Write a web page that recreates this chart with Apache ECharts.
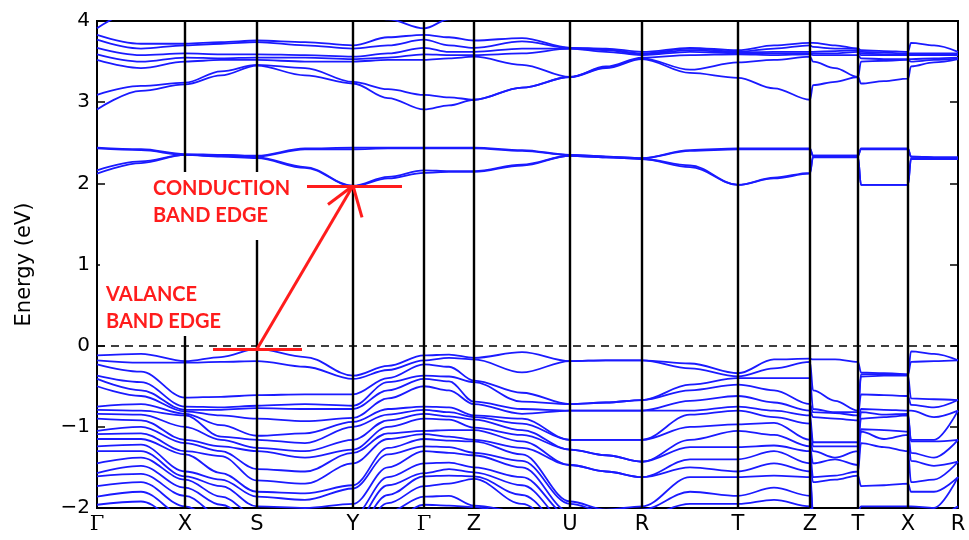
<!DOCTYPE html>
<html><head><meta charset="utf-8">
<script src="https://cdn.jsdelivr.net/npm/echarts@6/dist/echarts.min.js"></script>
<style>html,body{margin:0;padding:0;background:#fff}#c{width:969px;height:540px}</style>
</head><body><div id="c"></div>
<script>
// k-path distance of each sampled point (Γ-X-S-Y-Γ-Z-U-R-T-Z|T|X|R)
const kDist = [0,44,88,124,160,208,256,291,327,352,377,425,473,509,545,593,641,677,713,716,738,761,764,787,811,814,837,861];
const kTickPos = [0,88,160,256,327,377,473,545,641,713,761,811,861];
const kTickLabels = ['Γ','X','S','Y','Γ','Z','U','R','T','Z','T','X','R'];
const yTicks = [-2,-1,0,1,2,3,4];

// conduction bands, lower group (eV)
const d1 = [2.12,2.25,2.35,2.33,2.31,2.19,1.965,2.06,2.13,2.14,2.14,2.22,2.34,2.32,2.30,2.20,1.98,2.06,2.12,2.32,2.32,2.32,1.98,1.98,1.98,2.30,2.30,2.30];
const d2 = [2.16,2.27,2.35,2.34,2.32,2.20,1.97,2.08,2.16,2.15,2.15,2.23,2.34,2.32,2.30,2.22,1.98,2.07,2.13,2.33,2.33,2.33,1.98,1.98,1.98,2.31,2.31,2.31];
const d3 = [2.43,2.41,2.35,2.35,2.33,2.42,2.42,2.43,2.43,2.43,2.43,2.40,2.35,2.33,2.31,2.40,2.42,2.42,2.42,2.34,2.34,2.34,2.42,2.42,2.42,2.33,2.32,2.32];
const d4 = [2.44,2.42,2.36,2.35,2.34,2.43,2.44,2.44,2.44,2.44,2.44,2.41,2.35,2.33,2.31,2.41,2.43,2.43,2.43,2.34,2.34,2.34,2.43,2.43,2.43,2.33,2.32,2.32];
// conduction bands, upper group (eV)
const c1 = [2.91,3.14,3.22,3.33,3.45,3.33,3.23,3.05,2.91,2.96,3.03,3.18,3.31,3.42,3.53,3.36,3.30,3.17,3.03,3.21,3.25,3.31,3.23,3.26,3.29,3.44,3.49,3.53];
const c2 = [3.09,3.20,3.24,3.38,3.46,3.42,3.25,3.16,3.09,3.06,3.03,3.18,3.31,3.43,3.54,3.40,3.49,3.52,3.56,3.50,3.42,3.31,3.50,3.51,3.52,3.50,3.52,3.54];
const c3 = [3.52,3.42,3.50,3.52,3.52,3.50,3.50,3.52,3.52,3.54,3.56,3.46,3.31,3.44,3.55,3.58,3.59,3.58,3.59,3.58,3.58,3.58,3.54,3.53,3.53,3.53,3.54,3.55];
const c4 = [3.59,3.50,3.55,3.54,3.55,3.55,3.53,3.55,3.59,3.58,3.58,3.60,3.66,3.62,3.58,3.62,3.60,3.60,3.60,3.60,3.60,3.62,3.58,3.58,3.58,3.58,3.58,3.58];
const c5 = [3.67,3.58,3.60,3.59,3.59,3.58,3.56,3.60,3.67,3.62,3.62,3.66,3.66,3.64,3.59,3.64,3.61,3.62,3.62,3.62,3.63,3.64,3.60,3.59,3.59,3.59,3.59,3.59];
const c6 = [3.77,3.66,3.70,3.72,3.74,3.70,3.66,3.70,3.77,3.70,3.67,3.75,3.67,3.65,3.60,3.66,3.62,3.66,3.70,3.68,3.66,3.66,3.62,3.61,3.60,3.60,3.60,3.60];
const c7 = [3.83,3.72,3.72,3.74,3.76,3.74,3.70,3.80,3.83,3.80,3.76,3.79,3.67,3.66,3.62,3.67,3.64,3.70,3.73,3.73,3.70,3.66,3.64,3.63,3.62,3.73,3.70,3.62];
const c8 = [3.91,4.15,4.25,4.25,4.25,4.20,4.10,4.02,3.91,4.02,4.15,4.20,4.20,4.20,4.20,4.20,4.20,4.20,4.20,4.20,4.20,4.20,4.20,4.20,4.20,4.20,4.20,4.20];

// valence bands (eV)
const v1 = [-0.12,-0.10,-0.19,-0.14,-0.04,-0.14,-0.37,-0.25,-0.12,-0.11,-0.15,-0.08,-0.19,-0.18,-0.18,-0.22,-0.34,-0.17,-0.16,-0.17,-0.17,-0.20,-0.33,-0.34,-0.35,-0.07,-0.10,-0.18];
const v2 = [-0.18,-0.21,-0.21,-0.20,-0.19,-0.26,-0.41,-0.30,-0.18,-0.15,-0.17,-0.33,-0.19,-0.18,-0.18,-0.28,-0.38,-0.28,-0.20,-0.55,-0.68,-0.80,-0.35,-0.35,-0.36,-0.20,-0.19,-0.18];
const v3 = [-0.23,-0.32,-0.64,-0.63,-0.61,-0.60,-0.60,-0.40,-0.23,-0.26,-0.43,-0.58,-0.72,-0.70,-0.67,-0.48,-0.40,-0.40,-0.40,-0.78,-0.82,-0.82,-0.38,-0.37,-0.37,-0.65,-0.66,-0.67];
const v4 = [-0.37,-0.45,-0.75,-0.76,-0.74,-0.72,-0.74,-0.45,-0.37,-0.38,-0.45,-0.69,-0.72,-0.70,-0.67,-0.55,-0.48,-0.55,-0.72,-0.82,-0.83,-0.86,-0.60,-0.61,-0.62,-0.73,-0.76,-0.67];
const v5 = [-0.41,-0.55,-0.79,-0.79,-0.77,-0.78,-0.78,-0.55,-0.41,-0.44,-0.69,-0.78,-0.80,-0.80,-0.80,-0.68,-0.62,-0.70,-0.80,-0.88,-0.90,-0.92,-0.78,-0.79,-0.80,-0.80,-0.88,-0.80];
const v6 = [-0.50,-0.62,-0.81,-0.86,-0.90,-0.93,-0.89,-0.65,-0.50,-0.55,-0.72,-0.84,-0.80,-0.80,-0.80,-0.80,-0.75,-0.80,-0.86,-1.19,-1.19,-1.19,-0.82,-0.85,-0.84,-1.16,-1.16,-0.80];
const v7 = [-0.75,-0.72,-0.84,-0.98,-1.11,-1.08,-0.94,-0.78,-0.75,-0.76,-0.86,-0.90,-1.16,-1.16,-1.16,-0.85,-0.80,-0.88,-0.96,-1.24,-1.24,-1.24,-0.90,-0.88,-0.86,-1.18,-1.18,-1.16];
const v8 = [-0.79,-0.80,-0.86,-1.12,-1.16,-1.20,-1.00,-0.85,-0.79,-0.82,-0.88,-0.96,-1.16,-1.16,-1.16,-1.00,-0.97,-0.95,-1.16,-1.30,-1.38,-1.30,-1.03,-1.04,-1.06,-1.32,-1.38,-1.16];
const v9 = [-0.84,-0.85,-1.00,-1.16,-1.26,-1.30,-1.16,-0.92,-0.84,-0.87,-0.91,-1.04,-1.28,-1.35,-1.43,-1.16,-1.05,-1.10,-1.24,-1.45,-1.40,-1.47,-1.06,-1.15,-1.10,-1.42,-1.48,-1.43];
const v10 = [-0.90,-0.92,-1.16,-1.24,-1.30,-1.38,-1.28,-1.00,-0.90,-0.91,-1.01,-1.10,-1.28,-1.35,-1.43,-1.25,-1.25,-1.23,-1.30,-1.62,-1.60,-1.55,-1.20,-1.25,-1.30,-1.68,-1.65,-1.43];
const v11 = [-1.05,-1.00,-1.20,-1.30,-1.52,-1.55,-1.32,-1.08,-1.05,-1.04,-1.04,-1.18,-1.47,-1.55,-1.62,-1.40,-1.40,-1.30,-1.45,-1.68,-1.65,-1.60,-1.73,-1.72,-1.70,-1.80,-1.80,-1.62];
const v12 = [-1.09,-1.08,-1.30,-1.36,-1.66,-1.70,-1.45,-1.15,-1.09,-1.12,-1.16,-1.26,-1.47,-1.55,-1.62,-1.50,-1.55,-1.45,-1.55,-2.05,-2.05,-2.05,-1.98,-1.98,-1.98,-1.98,-2.00,-1.62];
const v13 = [-1.15,-1.15,-1.34,-1.57,-1.80,-1.82,-1.72,-1.26,-1.15,-1.17,-1.18,-1.34,-1.92,-2.02,-1.98,-1.62,-1.62,-1.60,-1.62,-2.10,-2.10,-2.10,-2.10,-2.10,-2.10,-2.10,-2.10,-1.98];
const v14 = [-1.24,-1.22,-1.55,-1.65,-1.86,-1.90,-1.76,-1.34,-1.24,-1.25,-1.32,-1.42,-1.95,-2.05,-2.02,-1.80,-1.85,-1.75,-1.85,-2.15,-2.15,-2.15,-2.15,-2.15,-2.15,-2.15,-2.15,-2.02];
const v15 = [-1.30,-1.30,-1.61,-1.73,-1.98,-2.00,-1.95,-1.50,-1.30,-1.32,-1.35,-1.50,-2.05,-2.10,-2.10,-1.95,-1.95,-1.90,-1.98,-2.20,-2.20,-2.20,-2.20,-2.20,-2.20,-2.20,-2.20,-2.10];
const v16 = [-1.45,-1.38,-1.65,-1.86,-2.10,-2.10,-2.10,-1.62,-1.45,-1.44,-1.50,-1.62,-2.10,-2.15,-2.15,-2.05,-2.05,-2.05,-2.05,-2.25,-2.25,-2.25,-2.25,-2.25,-2.25,-2.25,-2.25,-2.15];
const v17 = [-1.57,-1.48,-1.75,-1.96,-2.20,-2.20,-2.20,-1.72,-1.57,-1.52,-1.56,-1.72,-2.20,-2.20,-2.20,-2.15,-2.15,-2.15,-2.15,-2.30,-2.30,-2.30,-2.30,-2.30,-2.30,-2.30,-2.30,-2.20];
const v18 = [-1.61,-1.58,-1.85,-2.10,-2.30,-2.30,-2.30,-1.84,-1.61,-1.60,-1.61,-1.84,-2.30,-2.30,-2.30,-2.25,-2.25,-2.25,-2.25,-2.35,-2.35,-2.35,-2.35,-2.35,-2.35,-2.35,-2.35,-2.30];
const v19 = [-1.73,-1.68,-1.98,-2.20,-2.40,-2.40,-2.40,-1.94,-1.73,-1.70,-1.64,-1.95,-2.40,-2.40,-2.40,-2.35,-2.35,-2.35,-2.35,-2.40,-2.40,-2.40,-2.40,-2.40,-2.40,-2.40,-2.40,-2.40];
const v20 = [-1.86,-1.80,-2.10,-2.30,-2.50,-2.50,-2.50,-2.05,-1.86,-1.85,-1.97,-2.05,-2.50,-2.50,-2.50,-2.45,-2.45,-2.45,-2.45,-2.45,-2.45,-2.45,-2.45,-2.45,-2.45,-2.45,-2.45,-2.50];
const v21 = [-1.96,-1.92,-2.20,-2.40,-2.60,-2.60,-2.60,-2.20,-1.96,-1.97,-1.99,-2.10,-2.60,-2.60,-2.60,-2.55,-2.55,-2.55,-2.55,-2.55,-2.55,-2.55,-2.55,-2.55,-2.55,-2.55,-2.55,-2.60];

// annotation points [k, E]
const vbmLine = [[116,-0.04],[205,-0.04]];
const cbmLine = [[210,1.97],[305,1.97]];
const gapArrow = [[160,-0.04],[256,1.97]];
const arrowBarbs = [[231,1.74],[265,1.58]];

const bands = [d1,d2,d3,d4,c1,c2,c3,c4,c5,c6,c7,c8,
  v1,v2,v3,v4,v5,v6,v7,v8,v9,v10,v11,v12,v13,v14,v15,v16,v17,v18,v19,v20,v21];

const BLUE = '#1a1aff', RED = '#ff1c1c';
const series = bands.map(b => ({
  type: 'line', xAxisIndex: 0, yAxisIndex: 0,
  data: kDist.map((k, i) => [k, b[i]]),
  showSymbol: false, symbol: 'none', smooth: 0.35, smoothMonotone: 'x',
  lineStyle: { color: BLUE, width: 1.8 }, silent: true, z: 3
}));

// vertical k-point lines and Fermi level
series.push({
  type: 'line', data: [], silent: true, z: 2,
  markLine: {
    silent: true, symbol: ['none','none'], label: { show: false }, animation: false,
    data: kTickPos.slice(1, -1).map(v => ({ xAxis: v, lineStyle: { color: '#000', width: 2.4, type: 'solid' } }))
      .concat([{ yAxis: 0, lineStyle: { color: '#000', width: 1.6, type: [8, 6] } }])
  }
});
// red annotations
const tip = gapArrow[1];
series.push({
  type: 'line', data: [], silent: true, z: 20,
  markLine: {
    silent: true, symbol: ['none','none'], label: { show: false }, animation: false,
    lineStyle: { color: RED, width: 3, type: 'solid' },
    data: [
      [{ coord: vbmLine[0] }, { coord: vbmLine[1] }],
      [{ coord: cbmLine[0] }, { coord: cbmLine[1] }],
      [{ coord: gapArrow[0] }, { coord: gapArrow[1] }],
      [{ coord: tip }, { coord: arrowBarbs[0] }],
      [{ coord: tip }, { coord: arrowBarbs[1] }]
    ]
  }
});

const chart = echarts.init(document.getElementById('c'), null, { renderer: 'canvas' });
chart.setOption({
  animation: false,
  backgroundColor: '#fff',
  grid: { left: 97, right: 11, top: 21, bottom: 32, show: true, borderColor: '#000', borderWidth: 2, backgroundColor: 'transparent' },
  xAxis: {
    type: 'value', min: 0, max: kDist[kDist.length - 1],
    splitLine: { show: false },
    axisLine: { show: false },
    axisTick: { show: false },
    axisLabel: {
      customValues: kTickPos, margin: 6, color: '#000',
      fontFamily: 'DejaVu Sans', fontSize: 21,
      formatter: v => {
        const i = kTickPos.indexOf(v);
        const t = i >= 0 ? kTickLabels[i] : '';
        return t === 'Γ' ? '{g|Γ}' : t;
      },
      rich: { g: { fontFamily: 'DejaVu Serif', fontSize: 21, color: '#000' } }
    }
  },
  yAxis: [{
    type: 'value', min: -2, max: 4, interval: 1,
    splitLine: { show: false },
    axisLine: { show: false },
    axisTick: { show: true, inside: true, length: 8, lineStyle: { color: '#000', width: 1.5 } },
    axisLabel: { color: '#000', fontFamily: 'DejaVu Sans', fontSize: 20, margin: 7,
      formatter: v => v < 0 ? '\u2212' + Math.abs(v) : String(v) },
    name: 'Energy (eV)', nameLocation: 'middle', nameGap: 62,
    nameTextStyle: { color: '#000', fontFamily: 'DejaVu Sans', fontSize: 21 }
  }, {
    type: 'value', min: -2, max: 4, interval: 1, position: 'right',
    splitLine: { show: false }, axisLine: { show: false },
    axisTick: { show: true, inside: true, length: 8, lineStyle: { color: '#000', width: 1.5 } },
    axisLabel: { show: false }
  }],
  series: series,
  graphic: [
    { type: 'rect', shape: { x: 148, y: 172, width: 153, height: 68 }, style: { fill: '#fff' }, z: 50 },
    { type: 'rect', shape: { x: 100, y: 240, width: 145, height: 96 }, style: { fill: '#fff' }, z: 50 },
    { type: 'text', x: 153, y: 175, z: 51,
      style: { text: 'CONDUCTION\nBAND EDGE', fill: RED, font: 'bold 20px Lato', lineHeight: 27, verticalAlign: 'top', align: 'left' } },
    { type: 'text', x: 106, y: 281, z: 51,
      style: { text: 'VALANCE\nBAND EDGE', fill: RED, font: 'bold 20px Lato', lineHeight: 27, verticalAlign: 'top', align: 'left' } }
  ]
});
</script>
</body></html>
